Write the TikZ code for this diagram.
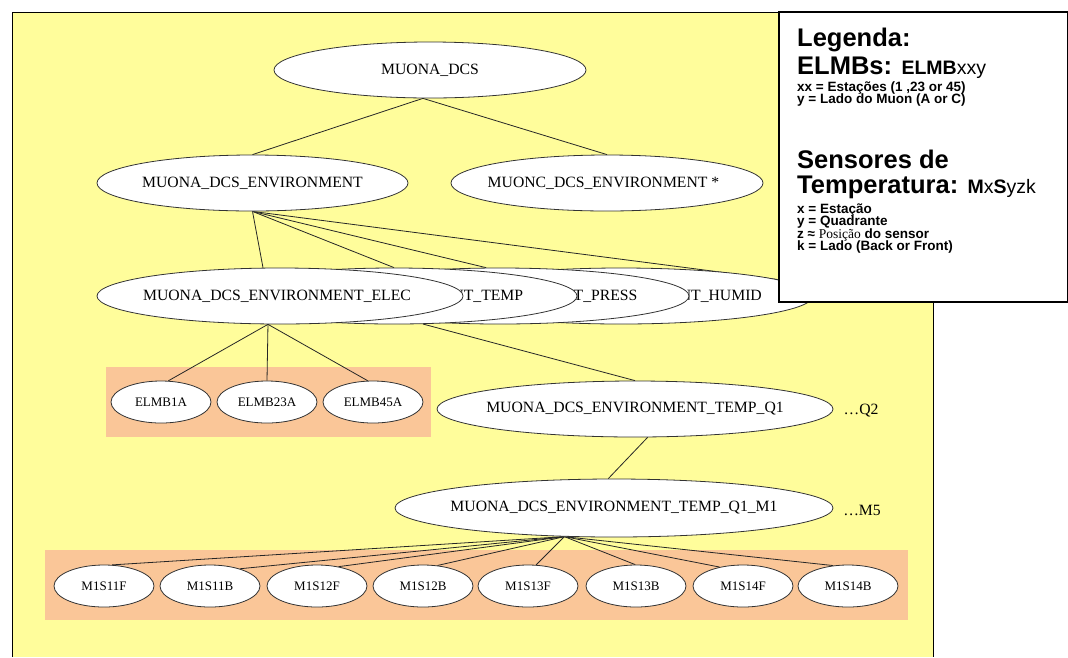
\documentclass[tikz,border=0pt]{standalone}
\usepackage{fontspec}
\setmainfont{Liberation Serif}
\newfontfamily\lsans{Liberation Sans}
\usetikzlibrary{shapes.geometric}
\definecolor{bgyellow}{RGB}{255,253,155}
\definecolor{peach}{RGB}{250,198,152}
\pgfdeclarelayer{bg}
\pgfdeclarelayer{edges}
\pgfsetlayers{bg,edges,main}
\newcommand\dgfont{\fontsize{15.7}{19}\selectfont}
\newcommand\smfont{\fontsize{13}{15}\selectfont}
\newcommand\legbig{\fontsize{25.5}{30}\selectfont}
\newcommand\legmid{\fontsize{19.5}{23}\selectfont}
\newcommand\legsmall{\fontsize{13.5}{16}\selectfont}
\newcommand\zb[1]{\makebox[0pt]{#1}}
\newcommand\zbs[2]{\makebox[0pt]{\hspace*{#1}\hspace*{#1}#2}}
\tikzset{
  ell/.style={ellipse, draw=black!80, fill=white, inner sep=0pt, line width=0.8pt, font=\dgfont, text=black},
  bigell/.style={ell, minimum height=56pt},
  smell/.style={ell, minimum width=100pt, minimum height=42pt, font=\smfont},
  conn/.style={draw=black!85, line width=0.8pt},
  leg/.style={anchor=base west, inner sep=0pt, font=\lsans, text=black},
  legendbox/.style={draw=black, fill=white, line width=2pt, anchor=north west, inner sep=0pt, minimum width=289pt, minimum height=290pt},
  more/.style={inner sep=0pt, font=\dgfont, text=black},
}
\begin{document}
\begin{tikzpicture}[x=1pt,y=-1pt]
\useasboundingbox (0,0) rectangle (1068,657);
\begin{pgfonlayer}{bg}
  \fill[bgyellow] (12,12) rectangle (933,657);
  \draw[black, line width=0.8pt] (12,657) -- (12,12) -- (933,12) -- (933,657);
  \fill[peach] (106,367) rectangle (431,437);
  \fill[peach] (45,550) rectangle (908,620);
\end{pgfonlayer}

% level 1-2
\node[bigell, minimum width=312pt] (dcs) at (430,70) {\zb{MUONA\_DCS}};
\node[bigell, minimum width=311pt] (envA) at (252.5,183) {\zb{MUONA\_DCS\_ENVIRONMENT}};
\node[bigell, minimum width=312pt] (envC) at (607,183) {\zbs{-3.5pt}{MUONC\_DCS\_ENVIRONMENT *}};

% level 3 (overlapping, back to front)
\node[bigell, minimum width=384pt] (humid) at (621,296) {\zb{MUONA\_DCS\_ENVIRONMENT\_HUMID}};
\node[bigell, minimum width=378pt] (press) at (500,296) {\zb{MUONA\_DCS\_ENVIRONMENT\_PRESS}};
\node[bigell, minimum width=366pt] (temp) at (394,296) {\zbs{-6pt}{MUONA\_DCS\_ENVIRONMENT\_TEMP}};
\node[bigell, minimum width=366pt] (elec) at (280,296) {\zbs{-3pt}{MUONA\_DCS\_ENVIRONMENT\_ELEC}};

% ELMBs
\node[smell] (elmb1) at (161,402) {\zb{ELMB1A}};
\node[smell] (elmb23) at (267,402) {\zb{ELMB23A}};
\node[smell] (elmb45) at (373,402) {\zb{ELMB45A}};

% temperature branch
\node[bigell, minimum width=396pt] (q1) at (635,409) {\zb{MUONA\_DCS\_ENVIRONMENT\_TEMP\_Q1}};
\node[more] (q2) at (861,411) {\ldots Q2};
\node[bigell, minimum width=438pt, minimum height=58pt] (m1) at (614,508) {\zb{MUONA\_DCS\_ENVIRONMENT\_TEMP\_Q1\_M1}};
\node[more] (m5) at (862,510) {\ldots M5};

% sensors
\node[smell] (s1) at (104,586) {\zb{M1S11F}};
\node[smell] (s2) at (210,586) {\zb{M1S11B}};
\node[smell] (s3) at (317,586) {\zb{M1S12F}};
\node[smell] (s4) at (423,586) {\zb{M1S12B}};
\node[smell] (s5) at (528,586) {\zb{M1S13F}};
\node[smell] (s6) at (636,586) {\zb{M1S13B}};
\node[smell] (s7) at (743,586) {\zb{M1S14F}};
\node[smell] (s8) at (848,586) {\zb{M1S14B}};

\begin{pgfonlayer}{edges}
  \draw[conn] (dcs.256) -- (envA.north);
  \draw[conn] (dcs.256) -- (envC.north);
  \draw[conn] (envA.south) -- (elec.121);
  \draw[conn] (envA.south) -- (temp.north);
  \draw[conn] (envA.south) -- (press.116.6);
  \draw[conn] (envA.south) -- (humid.6.5);
  \draw[conn] (elec.247) -- (elmb1.71);
  \draw[conn] (elec.247) -- (elmb23.north);
  \draw[conn] (elec.247) -- (elmb45.104);
  \draw[conn] (temp.316.4) -- (q1.north);
  \draw[conn] (q1.294.9) -- (m1.101.7);
  \draw[conn] (m1.210) -- (s1.69);
  \draw[conn] (m1.210) -- (s2.30.5);
  \draw[conn] (m1.210) -- (s3.42.2);
  \draw[conn] (m1.210) -- (s4.55.2);
  \draw[conn] (m1.210) -- (s5.69);
  \draw[conn] (m1.210) -- (s6.92);
  \draw[conn] (m1.210) -- (s7.141);
  \draw[conn] (m1.210) -- (s8.126.8);
\end{pgfonlayer}

% legend
\node[legendbox] (legend) at (777.5,11) {};
\node[leg] (lg1) at (797,46) {\bfseries\legbig Legenda:};
\node[leg] (lg2) at (797,74) {\bfseries\legbig ELMBs: \legmid ELMB{\mdseries xxy}};
\node[leg] (lg3) at (797,91) {\bfseries\legsmall xx = Estações (1 ,23 or 45)};
\node[leg] (lg4) at (797,103.5) {\bfseries\legsmall y = Lado do Muon (A or C)};
\node[leg] (lg5) at (797,168) {\bfseries\legbig Sensores de};
\node[leg] (lg6) at (797,193) {\bfseries\legbig Temperatura: \legmid M{\mdseries x}S{\mdseries yzk}};
\node[leg] (lg7) at (797,213) {\bfseries\legsmall x = Estação};
\node[leg] (lg8) at (797,225.5) {\bfseries\legsmall y = Quadrante};
\node[leg] (lg9) at (797,238) {\bfseries\legsmall z ≈ {\rmfamily\mdseries Posição} do sensor};
\node[leg] (lg10) at (797,250.5) {\bfseries\legsmall k = Lado (Back or Front)};
\end{tikzpicture}
\end{document}
